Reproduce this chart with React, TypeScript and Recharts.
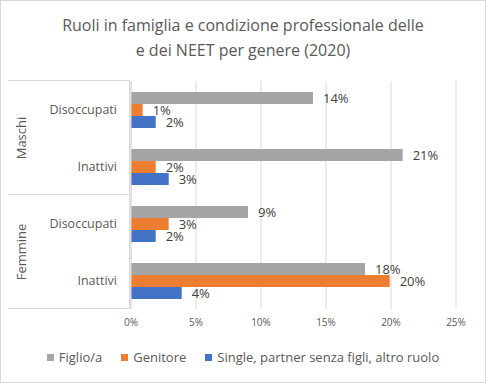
import {
  Bar,
  BarChart,
  CartesianGrid,
  LabelList,
  XAxis,
  YAxis,
} from "recharts";

const categories = ["Disoccupati", "Inattivi", "Disoccupati", "Inattivi"];
const groups = ["Maschi", "Femmine"];
const figlio = [14.0, 20.9, 9.0, 18.0];
const genitore = [0.9, 1.9, 2.9, 19.9];
const single = [1.9, 2.9, 1.9, 3.9];
const xTicks = [0, 5, 10, 15, 20, 25];

const series = [
  { key: "figlio", name: "Figlio/a", color: "#A5A5A5" },
  { key: "genitore", name: "Genitore", color: "#ED7D31" },
  { key: "single", name: "Single, partner senza figli, altro ruolo", color: "#4472C4" },
];

const data = categories.map((name, i) => ({
  id: i,
  name,
  figlio: figlio[i],
  genitore: genitore[i],
  single: single[i],
}));

const W = 486;
const H = 383;
const TOP = 81;
const BOTTOM = 309;
const LEFT = 131;
const FONT = "'Open Sans', 'Noto Sans', sans-serif";
const TEXT = "#595959";
const LINE = "#D9D9D9";

function App() {
  const groupH = (BOTTOM - TOP) / groups.length;
  return (
    <div style={{ position: "relative", width: W, height: H, fontFamily: FONT }}>
      <style>{`body{margin:0}`}</style>
      <div
        style={{
          position: "absolute",
          left: 0,
          top: 13,
          width: W,
          textAlign: "center",
          fontSize: 16,
          lineHeight: "25px",
          color: TEXT,
        }}
      >
        Ruoli in famiglia e condizione professionale delle
        <br />e dei NEET per genere (2020)
      </div>
      <BarChart
        width={W}
        height={H}
        data={data}
        layout="vertical"
        barSize={12}
        barGap={0}
        margin={{ top: TOP, right: 30, bottom: 20, left: 0 }}
        style={{ position: "absolute", left: 0, top: 0 }}
      >
        <CartesianGrid horizontal={false} stroke={LINE} strokeWidth={1} />
        <XAxis
          type="number"
          domain={[0, 25]}
          ticks={xTicks}
          tickFormatter={(v) => `${v}%`}
          axisLine={false}
          tickLine={false}
          tickMargin={4}
          height={54}
          tick={{ fontSize: 10, fill: TEXT, fontFamily: FONT }}
        />
        <YAxis
          type="category"
          dataKey="id"
          width={LEFT}
          tickFormatter={(i) => categories[i]}
          axisLine={{ stroke: LINE }}
          tickLine={false}
          tickMargin={8}
          tick={{ fontSize: 12.5, fill: TEXT, fontFamily: FONT }}
        />
        {series.map((s) => (
          <Bar
            key={s.key}
            dataKey={s.key}
            name={s.name}
            fill={s.color}
            isAnimationActive={false}
          >
            <LabelList
              dataKey={s.key}
              position="right"
              offset={10}
              formatter={(v: number) => `${Math.round(v)}%`}
              style={{ fontSize: 13, fill: "#404040", fontFamily: FONT }}
            />
          </Bar>
        ))}
      </BarChart>
      <svg
        width={W}
        height={H}
        style={{ position: "absolute", left: 0, top: 0, pointerEvents: "none" }}
      >
        {[0, 1, 2].map((k) => (
          <line
            key={k}
            x1={8}
            x2={LEFT - 1}
            y1={TOP + k * groupH - 0.5}
            y2={TOP + k * groupH - 0.5}
            stroke={LINE}
          />
        ))}
        <line x1={LEFT - 1.5} x2={LEFT - 1.5} y1={TOP} y2={BOTTOM} stroke={LINE} />
        {groups.map((g, k) => {
          const cy = TOP + k * groupH + groupH / 2;
          return (
            <text
              key={g}
              x={21}
              y={cy}
              transform={`rotate(-90 21 ${cy})`}
              textAnchor="middle"
              dominantBaseline="central"
              fontSize={13}
              fill={TEXT}
              fontFamily={FONT}
            >
              {g}
            </text>
          );
        })}
      </svg>
      <div
        style={{
          position: "absolute",
          left: 0,
          top: 348,
          width: W,
          display: "flex",
          justifyContent: "center",
          gap: 19,
          fontSize: 13,
          color: TEXT,
          lineHeight: "18px",
        }}
      >
        {series.map((s) => (
          <div key={s.key} style={{ display: "flex", alignItems: "center", gap: 5 }}>
            <span style={{ width: 7, height: 7, background: s.color, display: "inline-block" }} />
            <span>{s.name}</span>
          </div>
        ))}
      </div>
      <div
        style={{
          position: "absolute",
          left: 0,
          top: 0,
          width: W,
          height: H,
          boxSizing: "border-box",
          border: `1px solid ${LINE}`,
          pointerEvents: "none",
        }}
      />
    </div>
  );
}

export default App;
